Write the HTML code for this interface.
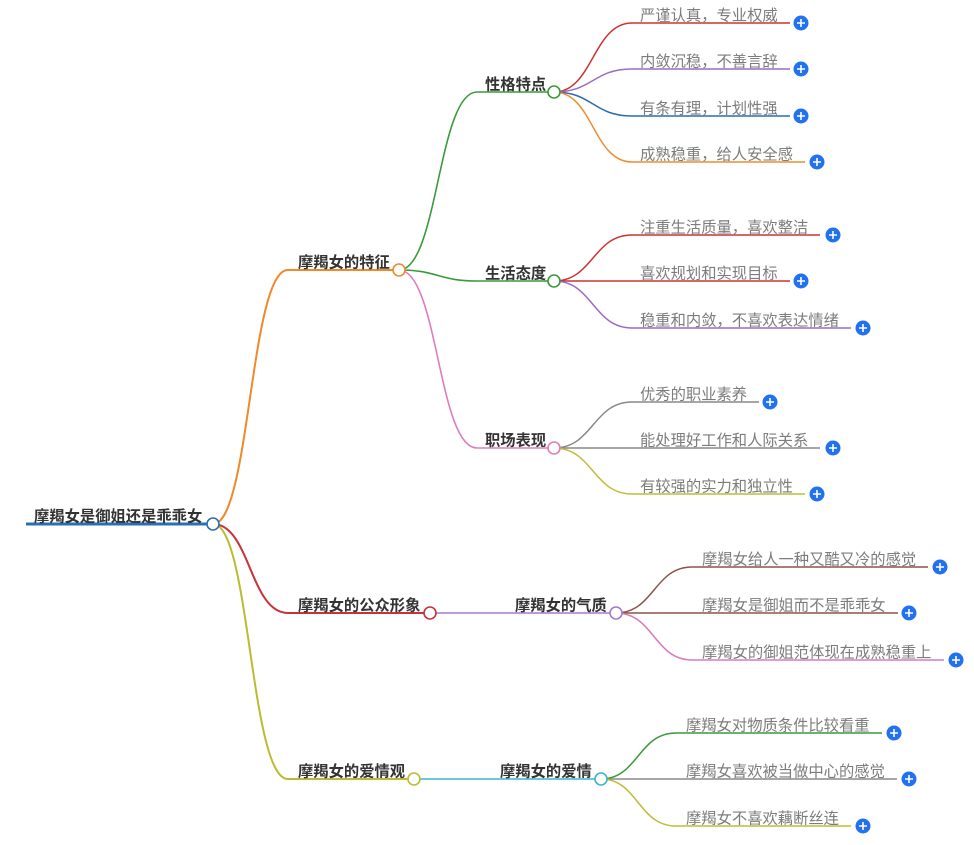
<!DOCTYPE html>
<html>
<head>
<meta charset="utf-8">
<style>
  html, body { margin: 0; padding: 0; background: #ffffff; }
  svg { display: block; }
  .t0 { font-family: "Liberation Sans", "Noto Sans CJK SC", sans-serif; font-size: 15.3px; font-weight: 600; fill: #333333; }
  .t1 { font-family: "Liberation Sans", "Noto Sans CJK SC", sans-serif; font-size: 15.3px; font-weight: bold; fill: #333333; }
  .t3 { font-family: "Liberation Sans", "Noto Sans CJK SC", sans-serif; font-size: 15.3px; fill: #7c7c7c; }
  .c { fill: #ffffff; stroke-width: 1.6; }
  path { fill: none; }
</style>
</head>
<body>
<svg width="974" height="845" viewBox="0 0 974 845" xmlns="http://www.w3.org/2000/svg">
  <rect x="0" y="0" width="974" height="845" fill="#ffffff"/>

  <!-- Root -->
  <path d="M26,524 H213" stroke="#2a6fb0" stroke-width="3"/>

  <!-- Level 1 connectors -->
  <path d="M213,524 C250,524 250,270 288,270 H399" stroke="#f0892a" stroke-width="2"/>
  <path d="M213,524 C250,524 250,613 288,613 H430" stroke="#c8323a" stroke-width="2"/>
  <path d="M213,524 C250,524 250,779 288,779 H414" stroke="#bbbb33" stroke-width="2"/>

  <!-- Level 2 connectors -->
  <path d="M399,270 C438,270 438,92 477,92 H554" stroke="#3a9a3a" stroke-width="1.6"/>
  <path d="M399,270 C438,270 438,281 477,281 H554" stroke="#3a9a3a" stroke-width="1.6"/>
  <path d="M399,270 C438,270 438,448 477,448 H554" stroke="#e07bc0" stroke-width="1.6"/>
  <path d="M430,613 H616" stroke="#a37dc8" stroke-width="1.6"/>
  <path d="M414,779 H601" stroke="#3bb5c8" stroke-width="1.6"/>

  <!-- Level 3 connectors: 性格特点 -->
  <path d="M554,92 C593,92 593,23 632,23 H790" stroke="#cc3333" stroke-width="1.5"/>
  <path d="M554,92 C593,92 593,69 632,69 H790" stroke="#9c6cc4" stroke-width="1.5"/>
  <path d="M554,92 C593,92 593,116 632,116 H790" stroke="#2a6cb0" stroke-width="1.5"/>
  <path d="M554,92 C593,92 593,162 632,162 H805" stroke="#f08c30" stroke-width="1.5"/>

  <!-- 生活态度 -->
  <path d="M554,281 C593,281 593,235 632,235 H820" stroke="#cc3333" stroke-width="1.5"/>
  <path d="M554,281 C593,281 593,281 632,281 H790" stroke="#cc3333" stroke-width="1.5"/>
  <path d="M554,281 C593,281 593,328 632,328 H851" stroke="#9c6cc4" stroke-width="1.5"/>

  <!-- 职场表现 -->
  <path d="M554,448 C593,448 593,402 632,402 H759" stroke="#888888" stroke-width="1.5"/>
  <path d="M554,448 C593,448 593,448 632,448 H820" stroke="#888888" stroke-width="1.5"/>
  <path d="M554,448 C593,448 593,494 632,494 H805" stroke="#bdbd36" stroke-width="1.5"/>

  <!-- 摩羯女的气质 -->
  <path d="M616,613 C654,613 654,567 692,567 H928" stroke="#8a5548" stroke-width="1.5"/>
  <path d="M616,613 C654,613 654,613 692,613 H898" stroke="#8a5548" stroke-width="1.5"/>
  <path d="M616,613 C654,613 654,660 692,660 H944" stroke="#d77bb8" stroke-width="1.5"/>

  <!-- 摩羯女的爱情 -->
  <path d="M601,779 C638,779 638,733 676,733 H882" stroke="#3a9a3a" stroke-width="1.5"/>
  <path d="M601,779 C638,779 638,779 676,779 H897" stroke="#888888" stroke-width="1.5"/>
  <path d="M601,779 C638,779 638,826 676,826 H851" stroke="#bdbd36" stroke-width="1.5"/>

  <!-- Node circles -->
  <circle class="c" cx="213" cy="524" r="6" stroke="#2a6fb0"/>
  <circle class="c" cx="399" cy="270" r="6" stroke="#f0892a"/>
  <circle class="c" cx="430" cy="613" r="6" stroke="#c8323a"/>
  <circle class="c" cx="414" cy="779" r="6" stroke="#bbbb33"/>
  <circle class="c" cx="554" cy="92" r="6" stroke="#3a9a3a"/>
  <circle class="c" cx="554" cy="281" r="6" stroke="#3a9a3a"/>
  <circle class="c" cx="554" cy="448" r="6" stroke="#e07bc0"/>
  <circle class="c" cx="616" cy="613" r="6" stroke="#a37dc8"/>
  <circle class="c" cx="601" cy="779" r="6" stroke="#3bb5c8"/>

  <!-- Texts -->
  <text class="t0" x="34" y="521.5">摩羯女是御姐还是乖乖女</text>
  <text class="t1" x="298" y="267.5">摩羯女的特征</text>
  <text class="t1" x="298" y="610.5">摩羯女的公众形象</text>
  <text class="t1" x="298" y="776.5">摩羯女的爱情观</text>
  <text class="t1" x="485" y="89.5">性格特点</text>
  <text class="t1" x="485" y="278.5">生活态度</text>
  <text class="t1" x="485" y="445.5">职场表现</text>
  <text class="t1" x="515" y="610.5">摩羯女的气质</text>
  <text class="t1" x="500" y="776.5">摩羯女的爱情</text>

  <text class="t3" x="640" y="20.5">严谨认真，专业权威</text>
  <text class="t3" x="640" y="66.5">内敛沉稳，不善言辞</text>
  <text class="t3" x="640" y="113.5">有条有理，计划性强</text>
  <text class="t3" x="640" y="159.5">成熟稳重，给人安全感</text>
  <text class="t3" x="640" y="232.5">注重生活质量，喜欢整洁</text>
  <text class="t3" x="640" y="278.5">喜欢规划和实现目标</text>
  <text class="t3" x="640" y="325.5">稳重和内敛，不喜欢表达情绪</text>
  <text class="t3" x="640" y="399.5">优秀的职业素养</text>
  <text class="t3" x="640" y="445.5">能处理好工作和人际关系</text>
  <text class="t3" x="640" y="491.5">有较强的实力和独立性</text>
  <text class="t3" x="702" y="564.5">摩羯女给人一种又酷又冷的感觉</text>
  <text class="t3" x="702" y="610.5">摩羯女是御姐而不是乖乖女</text>
  <text class="t3" x="702" y="657.5">摩羯女的御姐范体现在成熟稳重上</text>
  <text class="t3" x="686" y="730.5">摩羯女对物质条件比较看重</text>
  <text class="t3" x="686" y="776.5">摩羯女喜欢被当做中心的感觉</text>
  <text class="t3" x="686" y="823.5">摩羯女不喜欢藕断丝连</text>

  <!-- Plus buttons -->
  <g fill="#2171f0">
    <circle cx="801" cy="23" r="7.5"/>
    <circle cx="801" cy="69" r="7.5"/>
    <circle cx="801" cy="116" r="7.5"/>
    <circle cx="817" cy="162" r="7.5"/>
    <circle cx="833" cy="235" r="7.5"/>
    <circle cx="801" cy="281" r="7.5"/>
    <circle cx="863" cy="328" r="7.5"/>
    <circle cx="770" cy="402" r="7.5"/>
    <circle cx="833" cy="448" r="7.5"/>
    <circle cx="817" cy="494" r="7.5"/>
    <circle cx="940" cy="567" r="7.5"/>
    <circle cx="909" cy="613" r="7.5"/>
    <circle cx="956" cy="660" r="7.5"/>
    <circle cx="894" cy="733" r="7.5"/>
    <circle cx="909" cy="779" r="7.5"/>
    <circle cx="863" cy="826" r="7.5"/>
  </g>
  <g stroke="#ffffff" stroke-width="1.6" fill="none">
    <path d="M797,23 h8 M801,19 v8"/>
    <path d="M797,69 h8 M801,65 v8"/>
    <path d="M797,116 h8 M801,112 v8"/>
    <path d="M813,162 h8 M817,158 v8"/>
    <path d="M829,235 h8 M833,231 v8"/>
    <path d="M797,281 h8 M801,277 v8"/>
    <path d="M859,328 h8 M863,324 v8"/>
    <path d="M766,402 h8 M770,398 v8"/>
    <path d="M829,448 h8 M833,444 v8"/>
    <path d="M813,494 h8 M817,490 v8"/>
    <path d="M936,567 h8 M940,563 v8"/>
    <path d="M905,613 h8 M909,609 v8"/>
    <path d="M952,660 h8 M956,656 v8"/>
    <path d="M890,733 h8 M894,729 v8"/>
    <path d="M905,779 h8 M909,775 v8"/>
    <path d="M859,826 h8 M863,822 v8"/>
  </g>
</svg>
</body>
</html>
